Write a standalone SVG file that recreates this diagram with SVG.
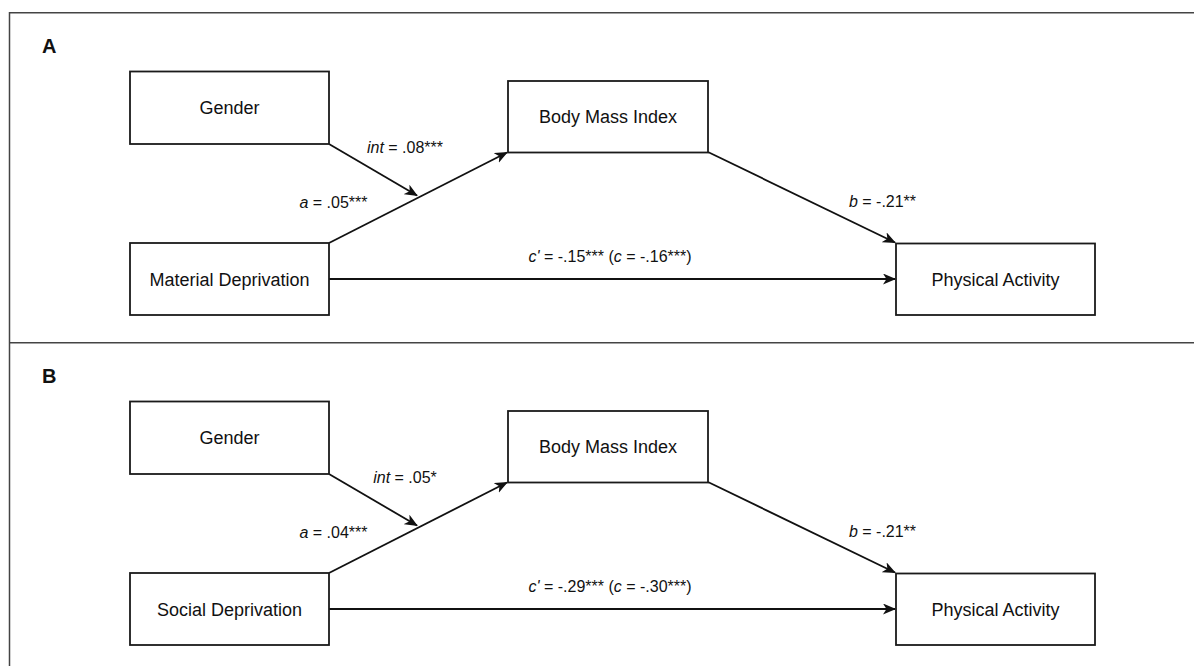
<svg xmlns="http://www.w3.org/2000/svg" width="1194" height="666" viewBox="0 0 1194 666">
  <style>
    .frame { fill: none; stroke: #444; stroke-width: 1.5; }
    .box { fill: #fff; stroke: #1a1a1a; stroke-width: 1.8; }
    .node-text { font-family: "Liberation Sans", Arial, sans-serif; font-size: 18px; fill: #111; text-anchor: middle; }
    .lbl { font-family: "Liberation Sans", Arial, sans-serif; font-size: 16px; fill: #111; text-anchor: middle; }
    .panel { font-family: "Liberation Sans", Arial, sans-serif; font-size: 20px; font-weight: bold; fill: #111; }
    .edge { fill: none; stroke: #111; stroke-width: 1.8; marker-end: url(#arrow); }
    .it { font-style: italic; }
  </style>
  <defs>
    <marker id="arrow" markerUnits="userSpaceOnUse" markerWidth="16" markerHeight="12" refX="12" refY="5.5" orient="auto">
      <path d="M0,0 L13,5.5 L0,11 L3.5,5.5 Z" fill="#111"/>
    </marker>
  </defs>
  <rect width="1194" height="666" fill="#fff"/>

  <g id="frame">
    <path class="frame" d="M9.5,666 L9.5,12.75 L1194,12.75"/>
    <path class="frame" d="M9.5,342.75 L1194,342.75"/>
  </g>

  <!-- Panel A -->
  <g id="panel-A">
    <text class="panel" x="42" y="53">A</text>

    <g id="connectors-A">
      <path class="edge" d="M329,144 L417,195.5"/>
      <path class="edge" d="M329,243 L507,152.5"/>
      <path class="edge" d="M708,152 L895,242.5"/>
      <path class="edge" d="M329,279 L895,279"/>
    </g>

    <g id="A-gender">
      <rect class="box" x="130" y="71.5" width="199" height="72.5"/>
      <text class="node-text" x="229.5" y="114">Gender</text>
    </g>
    <g id="A-material">
      <rect class="box" x="130" y="243" width="199" height="72"/>
      <text class="node-text" x="229.5" y="285.5">Material Deprivation</text>
    </g>
    <g id="A-bmi">
      <rect class="box" x="508" y="81" width="200" height="71.5"/>
      <text class="node-text" x="608" y="123">Body Mass Index</text>
    </g>
    <g id="A-pa">
      <rect class="box" x="896" y="243.5" width="199" height="71.5"/>
      <text class="node-text" x="995.5" y="285.5">Physical Activity</text>
    </g>

    <g id="labels-A">
      <text class="lbl" x="405" y="153"><tspan class="it">int</tspan> = .08***</text>
      <text class="lbl" x="333.5" y="208"><tspan class="it">a</tspan> = .05***</text>
      <text class="lbl" x="882.5" y="207"><tspan class="it">b</tspan> = -.21**</text>
      <text class="lbl" x="610" y="262"><tspan class="it">c'</tspan> = -.15*** (<tspan class="it">c</tspan> = -.16***)</text>
    </g>
  </g>

  <!-- Panel B -->
  <g id="panel-B" transform="translate(0,330)">
    <text class="panel" x="42" y="53">B</text>

    <g id="connectors-B">
      <path class="edge" d="M329,144 L417,195.5"/>
      <path class="edge" d="M329,243 L507,152.5"/>
      <path class="edge" d="M708,152 L895,242.5"/>
      <path class="edge" d="M329,279 L895,279"/>
    </g>

    <g id="B-gender">
      <rect class="box" x="130" y="71.5" width="199" height="72.5"/>
      <text class="node-text" x="229.5" y="114">Gender</text>
    </g>
    <g id="B-social">
      <rect class="box" x="130" y="243" width="199" height="72"/>
      <text class="node-text" x="229.5" y="285.5">Social Deprivation</text>
    </g>
    <g id="B-bmi">
      <rect class="box" x="508" y="81" width="200" height="71.5"/>
      <text class="node-text" x="608" y="123">Body Mass Index</text>
    </g>
    <g id="B-pa">
      <rect class="box" x="896" y="243.5" width="199" height="71.5"/>
      <text class="node-text" x="995.5" y="285.5">Physical Activity</text>
    </g>

    <g id="labels-B">
      <text class="lbl" x="405" y="153"><tspan class="it">int</tspan> = .05*</text>
      <text class="lbl" x="333.5" y="208"><tspan class="it">a</tspan> = .04***</text>
      <text class="lbl" x="882.5" y="207"><tspan class="it">b</tspan> = -.21**</text>
      <text class="lbl" x="610" y="262"><tspan class="it">c'</tspan> = -.29*** (<tspan class="it">c</tspan> = -.30***)</text>
    </g>
  </g>
</svg>
